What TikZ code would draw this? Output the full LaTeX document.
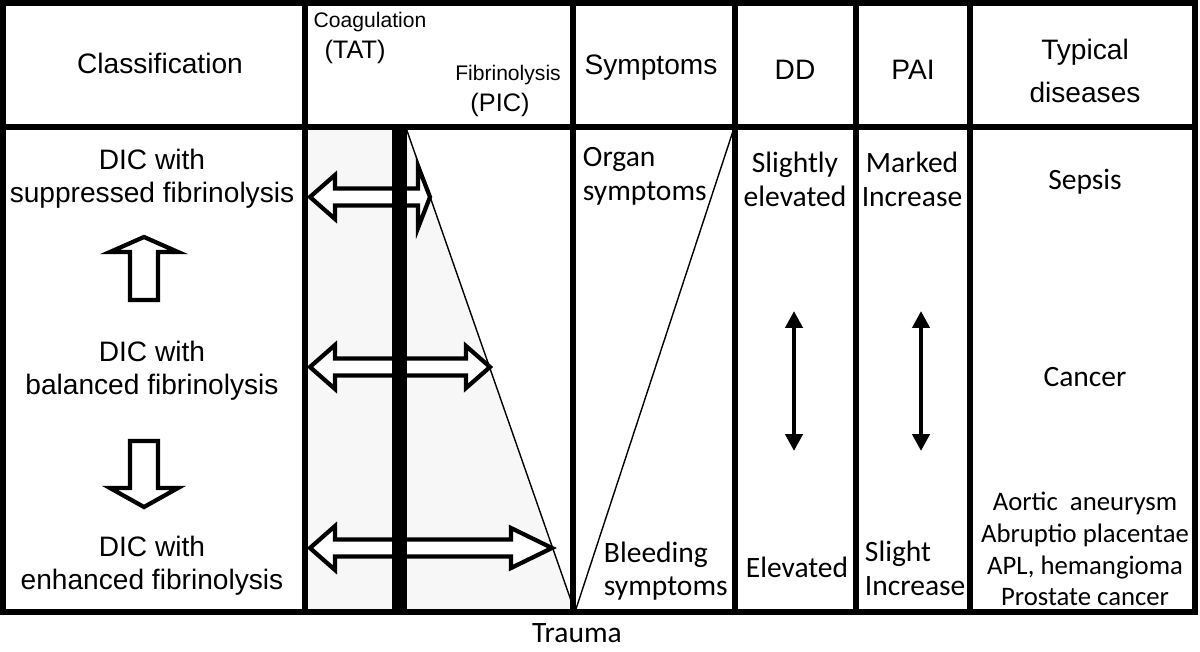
\documentclass[tikz,border=0pt]{standalone}
\usepackage{fontspec}
\setmainfont{Liberation Sans}
\newfontfamily\calib{Carlito}
\usetikzlibrary{arrows.meta}

\tikzset{
    grid/.style={line width=3.6pt},
    blockarrow/.style={line width=3pt, fill=white, line join=miter},
    thinline/.style={line width=1pt},
    hd/.style={font=\fontsize{20}{23.5}\selectfont, align=center},
    hdsmall/.style={font=\fontsize{15}{18}\selectfont},
    bd/.style={font=\calib\fontsize{21}{24}\selectfont, align=center},
    updown/.style={line width=3.5pt, {Triangle[length=12pt,width=12pt]}-{Triangle[length=12pt,width=12pt]}},
}

% double block arrow: y, right tip x, right head length, right head half height
\newcommand{\fibarrow}[4]{%
    \draw[blockarrow] (310,#1) -- (335,#1-22) -- (335,#1-8.5) -- (#2-#3,#1-8.5) -- (#2-#3,#1-#4)
        -- (#2,#1) -- (#2-#3,#1+#4) -- (#2-#3,#1+8.5) -- (335,#1+8.5) -- (335,#1+22) -- cycle;}

\begin{document}
\begin{tikzpicture}[x=0.025cm, y=-0.025cm]
    \useasboundingbox (0,0) rectangle (1200,651);
    % grey band and triangle
    \fill[gray!6] (307,127) rectangle (392,612);
    \fill[gray!6] (405,127) -- (575,612) -- (405,612) -- cycle;
    \draw[thinline] (405,125) -- (575,612);
    \draw[thinline] (575,612) -- (734,128);
    % fibrinolysis arrows
    \fibarrow{197}{430}{12}{31}
    \fibarrow{367}{490}{24}{21}
    \fibarrow{548}{552}{41}{20}
    \fill (392,127) rectangle (407,612);
    % up and down arrows
    \draw[blockarrow] (144,237) -- (178,252) -- (158,252) -- (158,300) -- (130,300) -- (130,252) -- (110,252) -- cycle;
    \draw[blockarrow] (130,441) -- (158,441) -- (158,488) -- (178,488) -- (144,507) -- (110,488) -- (130,488) -- cycle;
    % DD and PAI
    \coordinate (ddtop) at (794,311);
    \coordinate (ddbot) at (794,451);
    \coordinate (paitop) at (921,311);
    \coordinate (paibot) at (921,451);
    \draw[updown] (ddtop) -- (ddbot);
    \draw[updown] (paitop) -- (paibot);
    % table
    \draw[grid] (3,3) rectangle (1195,612);
    \draw[grid] (3,127) -- (1195,127);
    \foreach \x in {305,573,735,856,970}
        \draw[grid] (\x,3) -- (\x,612);
    % header
    \node[hd] (classif) at (160,63) {Classification};
    \node[hdsmall] (coag) at (370,22) {Coagulation};
    \node[hd, font=\fontsize{18}{20}\selectfont] (tat) at (355,52) {(TAT)};
    \node[hdsmall] (fibr) at (508,75) {Fibrinolysis};
    \node[hd, font=\fontsize{18}{20}\selectfont] (pic) at (500,105) {(PIC)};
    \node[hd] (sympt) at (651,68) {Symptoms};
    \node[hd] (dd) at (795,70) {DD};
    \node[hd] (pai) at (913,70) {PAI};
    \node[hd, font=\fontsize{20}{30.5}\selectfont] (typical) at (1085,71) {Typical\\diseases};
    % classification
    \node[hd] (suppr) at (152,179) {DIC with\\suppressed fibrinolysis};
    \node[hd] (bal) at (152,371) {DIC with\\balanced fibrinolysis};
    \node[hd] (enh) at (152,566) {DIC with\\enhanced fibrinolysis};
    % symptoms
    \node[bd, align=left, anchor=west] (organ) at (578,176) {Organ\\symptoms};
    \node[bd, align=left, anchor=west] (bleed) at (599,571) {Bleeding\\symptoms};
    \node[bd, inner sep=0pt] (trauma) at (577,633) {Trauma};
    % DD
    \node[bd] (slel) at (795,179) {Slightly\\elevated};
    \node[bd] (elev) at (797,567) {Elevated};
    % PAI
    \node[bd] (marked) at (912,179) {Marked\\Increase};
    \node[bd, align=left, anchor=west] (slight) at (860,568) {Slight\\Increase};
    % diseases
    \node[bd] (sepsis) at (1085,182) {Sepsis};
    \node[bd] (cancer) at (1085,377) {Cancer};
    \node[bd, font=\calib\fontsize{19}{22.6}\selectfont] (others) at (1085,549) {Aortic\ \ aneurysm\\Abruptio placentae\\APL, hemangioma\\Prostate cancer};
\end{tikzpicture}
\end{document}
